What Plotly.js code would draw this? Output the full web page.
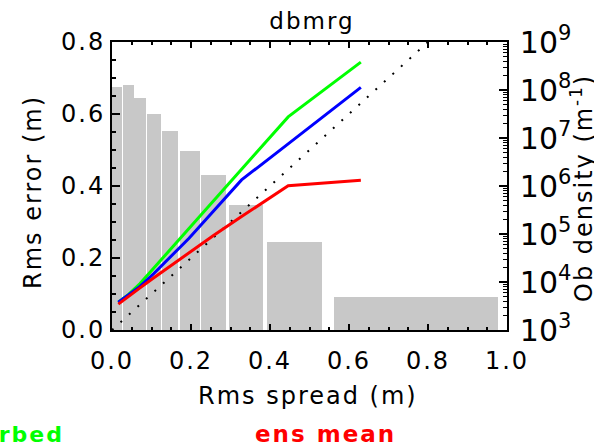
<!DOCTYPE html>
<html>
<head>
<meta charset="utf-8">
<script src="https://cdn.plot.ly/plotly-3.0.1.min.js"></script>
<style>
  html, body { margin: 0; padding: 0; background: #fff; }
  #chart { width: 594px; height: 448px; }
  #chart svg text { letter-spacing: 2px; }
  #chart svg .ytick text { letter-spacing: 0px; }
</style>
</head>
<body>
<div id="chart"></div>
<script>
// Histogram of observation density (right, log axis)
const binLo   = [0.001, 0.028, 0.056, 0.089, 0.127, 0.171, 0.226, 0.296, 0.392, 0.562];
const binHi   = [0.026, 0.055, 0.087, 0.124, 0.167, 0.222, 0.288, 0.382, 0.531, 0.977];
const obDensity = [1.17e8, 1.27e8, 6.8e7, 3.2e7, 1.37e7, 5.3e6, 1.73e6, 4.0e5, 6.9e4, 4.8e3];

// Rms spread (x) and Rms error (y) of each curve
const spread    = [0.016, 0.042, 0.071, 0.106, 0.146, 0.195, 0.256, 0.328, 0.446, 0.630];
const errGreen  = [0.077, 0.099, 0.129, 0.172, 0.221, 0.281, 0.357, 0.446, 0.592, 0.744];
const errBlue   = [0.077, 0.098, 0.121, 0.157, 0.201, 0.255, 0.329, 0.417, 0.517, 0.674];
const errRed    = [0.072, 0.094, 0.117, 0.145, 0.176, 0.214, 0.262, 0.315, 0.401, 0.416];

// reference line y = x
const diag = [0, 1];

const xTicks = [0, 0.2, 0.4, 0.6, 0.8, 1.0];
const yTicks = [0, 0.2, 0.4, 0.6, 0.8];

const FONT = 'DejaVu Sans';

const barX = binLo.map((lo, i) => (lo + binHi[i]) / 2);
const barW = binLo.map((lo, i) => binHi[i] - lo);

const traces = [
  {
    type: 'bar', x: barX, y: obDensity, width: barW,
    xaxis: 'x', yaxis: 'y',
    marker: { color: '#c8c8c8', line: { width: 0 } },
    hoverinfo: 'skip'
  },
  {
    type: 'scatter', mode: 'lines', x: diag, y: diag,
    xaxis: 'x', yaxis: 'y2',
    line: { color: '#000', width: 2, dash: '2px,9.5px' }
  },
  {
    type: 'scatter', mode: 'lines', x: spread, y: errGreen,
    xaxis: 'x', yaxis: 'y2', line: { color: '#00ff00', width: 3 }
  },
  {
    type: 'scatter', mode: 'lines', x: spread, y: errBlue,
    xaxis: 'x', yaxis: 'y2', line: { color: '#0000ff', width: 3 }
  },
  {
    type: 'scatter', mode: 'lines', x: spread, y: errRed,
    xaxis: 'x', yaxis: 'y2', line: { color: '#ff0000', width: 3 }
  }
];

// helpers to convert picture pixels into paper coordinates for text placement
const PL = 112, PW = 395, PB = 330, PH = 288;
const px = v => (v - PL) / PW;
const py = v => (PB - v) / PH;

const layout = {
  width: 594, height: 448,
  margin: { l: 112, r: 87, t: 42, b: 118 },
  paper_bgcolor: '#fff', plot_bgcolor: 'rgba(0,0,0,0)',
  showlegend: false,
  font: { family: FONT, size: 24, color: '#000' },
  bargap: 0,
  title: {
    text: 'dbmrg', font: { family: FONT, size: 23, color: '#000' },
    x: 312 / 594, xanchor: 'center', xref: 'container',
    y: 1 - 21 / 448, yanchor: 'middle', yref: 'container'
  },
  xaxis: {
    range: [0, 1], tickvals: xTicks, tickformat: '.1f',
    ticks: 'inside', ticklen: 6, tickwidth: 2, tickcolor: '#000',
    minor: { dtick: 0.05, tick0: 0, ticks: 'inside', ticklen: 3, tickwidth: 2, tickcolor: '#000', showgrid: false },
    showline: true, linewidth: 2, linecolor: '#000', mirror: 'ticks',
    showgrid: false, zeroline: false,
    tickfont: { family: FONT, size: 24 },
    ticklabelstandoff: 8
  },
  yaxis: {
    type: 'log', side: 'right', range: [3, 9], dtick: 1,
    exponentformat: 'power',
    ticks: 'inside', ticklen: 8, tickwidth: 2, tickcolor: '#000',
    minor: { ticks: 'inside', ticklen: 4, tickwidth: 1, tickcolor: '#000', showgrid: false },
    showline: true, linewidth: 2, linecolor: '#000',
    showgrid: false, zeroline: false,
    tickfont: { family: FONT, size: 24 },
    ticklabelstandoff: 6
  },
  yaxis2: {
    overlaying: 'y', side: 'left', range: [0, 0.8], tickvals: yTicks, tickformat: '.1f',
    ticks: 'inside', ticklen: 8, tickwidth: 2, tickcolor: '#000',
    minor: { dtick: 0.05, tick0: 0, ticks: 'inside', ticklen: 4, tickwidth: 2, tickcolor: '#000', showgrid: false },
    showline: true, linewidth: 2, linecolor: '#000',
    showgrid: false, zeroline: false,
    tickfont: { family: FONT, size: 24 },
    ticklabelstandoff: 0
  },
  annotations: [
    {
      text: 'Rms spread (m)', xref: 'paper', yref: 'paper',
      x: px(308), y: py(396), xanchor: 'center', yanchor: 'middle',
      showarrow: false, font: { family: FONT, size: 24, color: '#000' }
    },
    {
      text: 'Rms error (m)', xref: 'paper', yref: 'paper', textangle: -90,
      x: px(33), y: py(192), xanchor: 'center', yanchor: 'middle',
      showarrow: false, font: { family: FONT, size: 24, color: '#000' }
    },
    {
      text: 'Ob density (m<sup>-1</sup>)', xref: 'paper', yref: 'paper', textangle: -90,
      x: px(582), y: py(188), xanchor: 'center', yanchor: 'middle',
      showarrow: false, font: { family: FONT, size: 24, color: '#000' }
    },
    {
      text: 'perturbed', xref: 'paper', yref: 'paper',
      x: px(57), y: py(434), xanchor: 'right', yanchor: 'middle',
      showarrow: false, font: { family: FONT, size: 22, color: '#00ff00', weight: 'bold' }
    },
    {
      text: 'ens mean', xref: 'paper', yref: 'paper',
      x: px(325), y: py(434), xanchor: 'center', yanchor: 'middle',
      showarrow: false, font: { family: FONT, size: 23, color: '#ff0000', weight: 'bold' }
    }
  ]
};

Plotly.newPlot('chart', traces, layout, { staticPlot: true, displayModeBar: false });
</script>
</body>
</html>
